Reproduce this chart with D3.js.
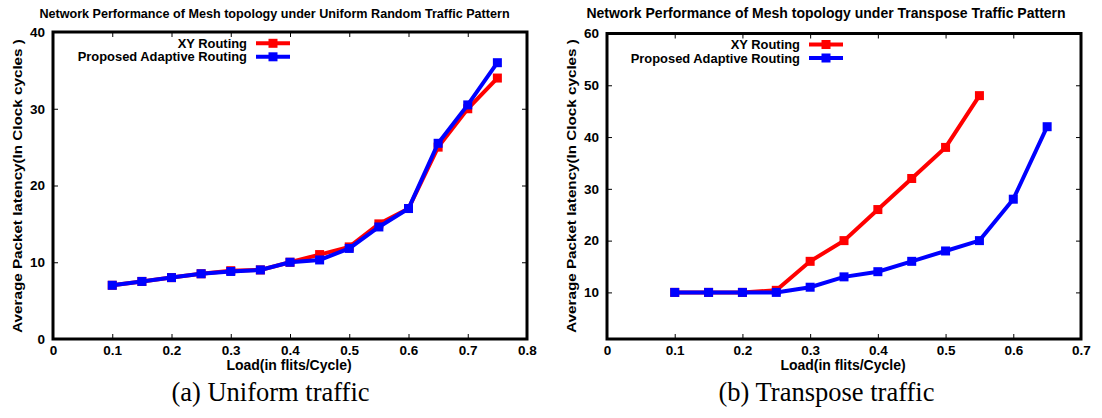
<!DOCTYPE html>
<html>
<head>
<meta charset="utf-8">
<script src="https://cdn.jsdelivr.net/npm/d3@7"></script>
<style>
  html, body { margin: 0; padding: 0; background: #fff; }
  svg { display: block; }
  .lbl { font-family: "Liberation Sans", Arial, sans-serif; font-weight: bold; fill: #000; }
  .cap { font-family: "Liberation Serif", "Times New Roman", serif; fill: #000; }
</style>
</head>
<body>
<svg id="chart" width="1102" height="418"></svg>
<script>
// Injection load (flits/cycle)
const loadUniform = [0.1, 0.15, 0.2, 0.25, 0.3, 0.35, 0.4, 0.45, 0.5, 0.55, 0.6, 0.65, 0.7, 0.75];
const xyUniform = [7, 7.5, 8, 8.5, 8.9, 9, 10, 11, 12, 15, 17, 25, 30, 34];
const adaptiveUniform = [7, 7.5, 8, 8.5, 8.8, 9, 10, 10.3, 11.8, 14.6, 17, 25.5, 30.5, 36];

const loadTransposeXY = [0.1, 0.15, 0.2, 0.25, 0.3, 0.35, 0.4, 0.45, 0.5, 0.55];
const xyTranspose = [10, 10, 10, 10.4, 16, 20, 26, 32, 38, 48];
const loadTransposeAdaptive = [0.1, 0.15, 0.2, 0.25, 0.3, 0.35, 0.4, 0.45, 0.5, 0.55, 0.6, 0.65];
const adaptiveTranspose = [10, 10, 10, 10, 11, 13, 14, 16, 18, 20, 28, 42];

const xTicksUniform = [0, 0.1, 0.2, 0.3, 0.4, 0.5, 0.6, 0.7, 0.8];
const yTicksUniform = [0, 10, 20, 30, 40];
const xTicksTranspose = [0, 0.1, 0.2, 0.3, 0.4, 0.5, 0.6, 0.7];
const yTicksTranspose = [10, 20, 30, 40, 50, 60];

const seriesNames = ["XY Routing", "Proposed Adaptive Routing"];
const seriesColors = ["#ff0000", "#0000ff"];

const svg = d3.select("#chart");

function panel(cfg) {
  const g = svg.append("g");
  const x = d3.scaleLinear().domain(cfg.xDomain).range([cfg.left, cfg.right]);
  const y = d3.scaleLinear().domain(cfg.yDomain).range([cfg.bottom, cfg.top]);

  // title
  g.append("text").attr("class", "lbl")
    .attr("x", cfg.titleX).attr("y", 17.5)
    .attr("text-anchor", "middle").attr("font-size", cfg.titleSize)
    .text(cfg.title);

  // inward ticks on all four sides
  const tickLen = 5;
  const axB = d3.axisBottom(x).tickValues(cfg.xTicks).tickSize(-tickLen).tickFormat(d3.format(""));
  const axT = d3.axisTop(x).tickValues(cfg.xTicks).tickSize(-tickLen).tickFormat("");
  const axL = d3.axisLeft(y).tickValues(cfg.yTicks).tickSize(-tickLen).tickFormat(d3.format("d"));
  const axR = d3.axisRight(y).tickValues(cfg.yTicks).tickSize(-tickLen).tickFormat("");

  function style(sel) {
    sel.select(".domain").remove();
    sel.selectAll(".tick line").attr("stroke", "#000").attr("stroke-width", 1);
    sel.selectAll(".tick text").attr("class", "lbl").attr("font-size", 13.5)
      .attr("font-family", null).attr("fill", "#000");
  }
  g.append("g").attr("transform", `translate(0,${cfg.bottom})`).call(axB).call(style)
    .selectAll(".tick text").attr("y", 6).attr("dy", "0.71em");
  g.append("g").attr("transform", `translate(0,${cfg.top})`).call(axT).call(style);
  g.append("g").attr("transform", `translate(${cfg.left},0)`).call(axL).call(style)
    .selectAll(".tick text").attr("x", -8);
  g.append("g").attr("transform", `translate(${cfg.right},0)`).call(axR).call(style);

  // plot frame
  g.append("rect")
    .attr("x", cfg.left).attr("y", cfg.top)
    .attr("width", cfg.right - cfg.left).attr("height", cfg.bottom - cfg.top)
    .attr("fill", "none").attr("stroke", "#000").attr("stroke-width", 3);

  // axis titles
  g.append("text").attr("class", "lbl")
    .attr("x", (cfg.left + cfg.right) / 2 - 1).attr("y", 370)
    .attr("text-anchor", "middle").attr("font-size", 14)
    .text("Load(in flits/Cycle)");
  g.append("text").attr("class", "lbl")
    .attr("transform", `translate(${cfg.left - 31},186) rotate(-90) scale(1.19,1)`)
    .attr("text-anchor", "middle").attr("font-size", 12.8)
    .text("Average Packet latency(In Clock cycles )");

  // series lines and square markers
  const line = d3.line().x(d => x(d[0])).y(d => y(d[1]));
  cfg.series.forEach((s, i) => {
    const pts = s.xs.map((v, j) => [v, s.ys[j]]);
    g.append("path").datum(pts)
      .attr("d", line).attr("fill", "none")
      .attr("stroke", seriesColors[i]).attr("stroke-width", 4)
      .attr("stroke-linejoin", "miter");
    g.selectAll(null).data(pts).enter().append("rect")
      .attr("x", d => x(d[0]) - 4.5).attr("y", d => y(d[1]) - 4.5)
      .attr("width", 9).attr("height", 9)
      .attr("fill", seriesColors[i]);
  });

  // legend
  seriesNames.forEach((name, i) => {
    const ly = cfg.legendY + i * 13.5;
    g.append("text").attr("class", "lbl")
      .attr("x", cfg.legendX).attr("y", ly + 4.5)
      .attr("text-anchor", "end").attr("font-size", 12.9)
      .text(name);
    g.append("line")
      .attr("x1", cfg.legendX + 9).attr("x2", cfg.legendX + 43)
      .attr("y1", ly).attr("y2", ly)
      .attr("stroke", seriesColors[i]).attr("stroke-width", 4);
    g.append("rect")
      .attr("x", cfg.legendX + 26 - 4.5).attr("y", ly - 4.5)
      .attr("width", 9).attr("height", 9)
      .attr("fill", seriesColors[i]);
  });

  // caption
  g.append("text").attr("class", "cap")
    .attr("x", cfg.captionX).attr("y", 401)
    .attr("text-anchor", "middle").attr("font-size", 26.5)
    .text(cfg.caption);
}

panel({
  left: 53, right: 527, top: 32, bottom: 339,
  xDomain: [0, 0.8], yDomain: [0, 40],
  xTicks: xTicksUniform, yTicks: yTicksUniform,
  title: "Network Performance of Mesh topology under Uniform Random Traffic Pattern",
  titleX: 274.5, titleSize: 12.6,
  legendX: 247, legendY: 43.3,
  series: [
    { xs: loadUniform, ys: xyUniform },
    { xs: loadUniform, ys: adaptiveUniform }
  ],
  caption: "(a) Uniform traffic", captionX: 270.5
});

panel({
  left: 607, right: 1081, top: 33.5, bottom: 339,
  xDomain: [0, 0.7], yDomain: [1, 60],
  xTicks: xTicksTranspose, yTicks: yTicksTranspose,
  title: "Network Performance of Mesh topology under Transpose Traffic Pattern",
  titleX: 826, titleSize: 14,
  legendX: 800, legendY: 44.5,
  series: [
    { xs: loadTransposeXY, ys: xyTranspose },
    { xs: loadTransposeAdaptive, ys: adaptiveTranspose }
  ],
  caption: "(b) Transpose traffic", captionX: 826.5
});
</script>
</body>
</html>
